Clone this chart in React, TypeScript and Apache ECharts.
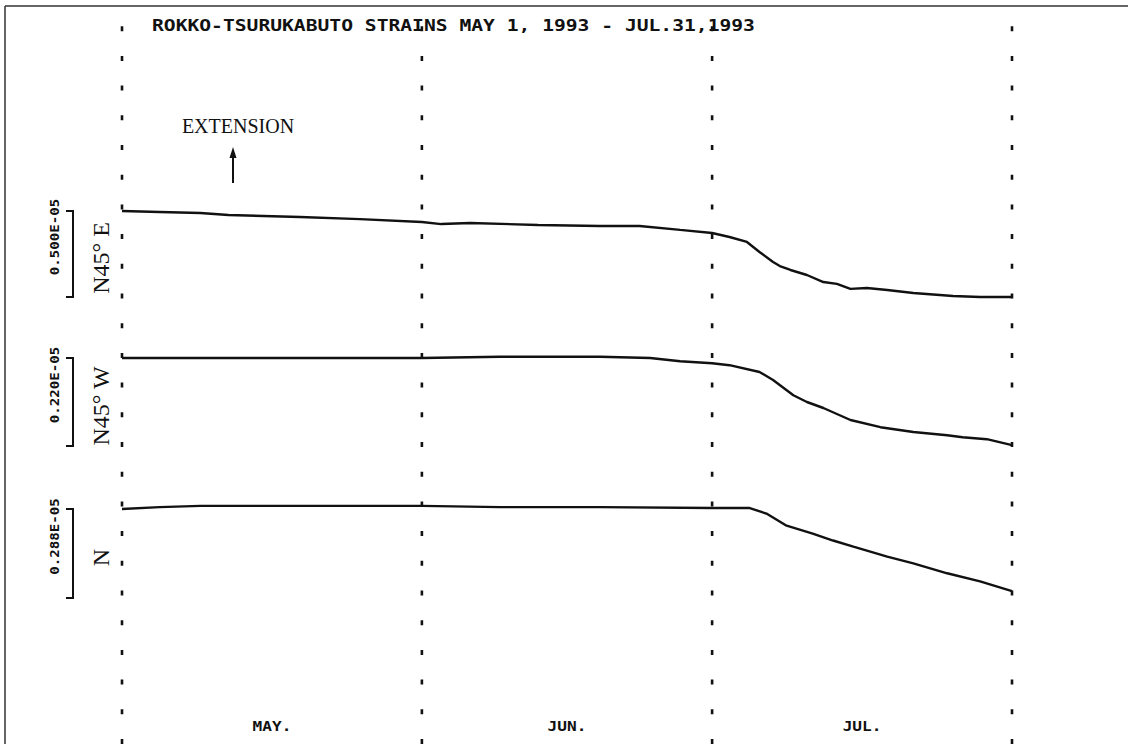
import React, { useEffect, useRef } from "react";
import * as echarts from "echarts";

// ---------- data ----------
const TITLE = "ROKKO-TSURUKABUTO STRAINS MAY 1, 1993 - JUL.31,1993";
const MONTH_LABELS = ["MAY.", "JUN.", "JUL."];
const MONTH_BOUNDS = [0, 31, 61, 92]; // days since May 1, 1993
const SERIES_NAMES = ["N45° E", "N45° W", "N"];
const SCALE_LABELS = ["0.500E-05", "0.220E-05", "0.288E-05"];
const SCALE_VALUES = [5.0, 2.2, 2.88]; // microstrain (1e-6)
const ANNOTATION = "EXTENSION";

// relative strain change (microstrain) vs day since May 1
const E_DAYS = [0, 3.9, 8.1, 11, 18.4, 24.6, 31, 33, 36, 43, 49.4, 53.5, 57.7, 61, 62.8, 64.6, 65.9, 67.3, 68, 69.1, 70.8, 72.5, 73.9, 75.3, 77, 79.1, 81.8, 85.9, 88.7, 92];
const E_VALS = [0, -0.06, -0.12, -0.23, -0.35, -0.47, -0.64, -0.76, -0.7, -0.81, -0.87, -0.87, -1.1, -1.28, -1.51, -1.8, -2.38, -2.97, -3.2, -3.43, -3.72, -4.13, -4.24, -4.53, -4.48, -4.59, -4.77, -4.94, -5.0, -5.0];

const W_DAYS = [0, 8.1, 18.4, 31, 39.1, 49.4, 54.6, 57.7, 61, 62.8, 65.9, 67.3, 69.4, 70.8, 72.5, 75.3, 78.4, 81.8, 85.3, 86.9, 89.4, 92];
const W_VALS = [0, 0, 0, 0, 0.03, 0.03, 0, -0.08, -0.13, -0.18, -0.35, -0.55, -0.93, -1.1, -1.25, -1.55, -1.73, -1.85, -1.93, -1.98, -2.03, -2.18];

const N_DAYS = [0, 3.9, 8.1, 18.4, 31, 39.1, 49.4, 61, 64.9, 66.7, 68.7, 71.4, 73.5, 75.6, 79.1, 81.8, 85.3, 88.7, 92];
const N_VALS = [0, 0.06, 0.1, 0.1, 0.1, 0.06, 0.06, 0.03, 0.03, -0.16, -0.54, -0.8, -1.02, -1.22, -1.54, -1.76, -2.08, -2.34, -2.66];

const SERIES_DAYS = [E_DAYS, W_DAYS, N_DAYS];
const SERIES_VALS = [E_VALS, W_VALS, N_VALS];

export default function App() {
  const ref = useRef<HTMLDivElement>(null);

  useEffect(() => {
    const el = ref.current!;
    const chart = echarts.init(el, null, { renderer: "svg" });

    // layout
    const gridLeft = 122, gridRight = 1012, gridTop = 12, gridBottom = 744;
    const startY = [211, 358, 509];
    const barPx = [86, 88, 89];
    const ink = "#111";

    const yAxes: any[] = startY.map((y0, i) => {
      const k = barPx[i] / SCALE_VALUES[i];
      return { type: "value", show: false, min: -(gridBottom - y0) / k, max: (y0 - gridTop) / k };
    });
    yAxes.push({ type: "value", show: false, min: 0, max: 1 });

    const series: any[] = SERIES_NAMES.map((name, i) => ({
      name,
      type: "line",
      yAxisIndex: i,
      showSymbol: false,
      silent: true,
      lineStyle: { color: ink, width: 2.4 },
      data: SERIES_DAYS[i].map((d, j) => [d, SERIES_VALS[i][j]]),
    }));
    MONTH_BOUNDS.forEach((b) => {
      series.push({
        type: "line",
        yAxisIndex: 3,
        showSymbol: false,
        silent: true,
        lineStyle: { color: ink, width: 2.6, type: [5, 24.7] },
        data: [[b, 0], [b, 1]],
      });
    });

    chart.setOption({
      animation: false,
      backgroundColor: "#fff",
      grid: { left: gridLeft, right: 1128 - gridRight, top: gridTop, bottom: 744 - gridBottom },
      xAxis: { type: "value", show: false, min: MONTH_BOUNDS[0], max: MONTH_BOUNDS[MONTH_BOUNDS.length - 1] },
      yAxis: yAxes,
      series,
    });

    const px = (day: number, val: number, yi: number) =>
      chart.convertToPixel({ xAxisIndex: 0, yAxisIndex: yi }, [day, val]) as number[];

    const graphics: any[] = [];
    // frame
    graphics.push({ type: "line", shape: { x1: 5, y1: 6, x2: 1128, y2: 6 }, style: { stroke: "#333", lineWidth: 1.5 } });
    graphics.push({ type: "line", shape: { x1: 5, y1: 6, x2: 5, y2: 744 }, style: { stroke: "#333", lineWidth: 1.5 } });

    // title
    graphics.push({
      type: "text", x: 152, y: 26, scaleX: 1.31,
      style: { text: TITLE, font: 'bold 15px "DejaVu Sans Mono"', fill: ink, align: "left", verticalAlign: "middle" },
    });

    // month labels
    MONTH_LABELS.forEach((m, i) => {
      const c = px((MONTH_BOUNDS[i] + MONTH_BOUNDS[i + 1]) / 2, 0, 0);
      graphics.push({
        type: "text", x: c[0], y: 726, scaleX: 1.15,
        style: { text: m, font: 'bold 14px "DejaVu Sans Mono"', fill: ink, align: "center", verticalAlign: "middle" },
      });
    });

    // scale bars + labels
    SCALE_VALUES.forEach((v, i) => {
      const top = px(0, 0, i)[1];
      const bot = px(0, -v, i)[1];
      graphics.push({
        type: "polyline",
        shape: { points: [[66, top], [73, top], [73, bot], [66, bot]] },
        style: { stroke: ink, lineWidth: 2, fill: null },
      });
      graphics.push({
        type: "text", x: 55, y: (top + bot) / 2 - 17, rotation: Math.PI / 2, scaleX: 1.18,
        style: { text: SCALE_LABELS[i], font: 'bold 12px "DejaVu Sans Mono"', fill: ink, align: "center", verticalAlign: "middle" },
      });
      graphics.push({
        type: "text", x: 101, y: (top + bot) / 2 + 4, rotation: Math.PI / 2,
        style: { text: SERIES_NAMES[i], font: '24px "Liberation Serif"', fill: ink, align: "center", verticalAlign: "middle" },
      });
    });

    // extension annotation
    graphics.push({
      type: "text", x: 238, y: 126,
      style: { text: ANNOTATION, font: '20px "Liberation Serif"', fill: ink, align: "center", verticalAlign: "middle" },
    });
    graphics.push({ type: "line", shape: { x1: 233, y1: 183, x2: 233, y2: 155 }, style: { stroke: ink, lineWidth: 2 } });
    graphics.push({ type: "polygon", shape: { points: [[233, 147], [229.5, 158], [236.5, 158]] }, style: { fill: ink } });

    chart.setOption({ graphic: graphics });

    return () => chart.dispose();
  }, []);

  return (
    <div
      ref={ref}
      style={{ position: "fixed", left: 0, top: 0, width: 1128, height: 744, background: "#fff" }}
    />
  );
}
